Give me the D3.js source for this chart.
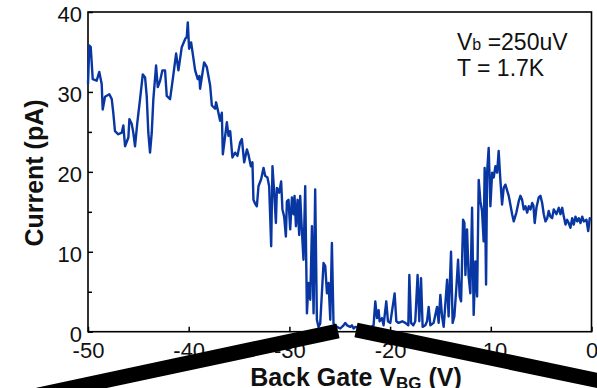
<!DOCTYPE html>
<html>
<head>
<meta charset="utf-8">
<script src="https://cdn.jsdelivr.net/npm/d3@7"></script>
<style>
  body { margin: 0; background: #fff; }
  svg { display: block; font-family: "Liberation Sans", Arial, sans-serif; }
</style>
</head>
<body>
<svg id="chart"></svg>
<script>
// Back gate voltage (V)
const vbg = [
  -50.00, -49.87, -49.73, -49.53, -49.14, -48.88, -48.64, -48.54, -48.31, -47.88,
  -47.64, -47.49, -47.32, -46.99, -46.65, -46.49, -46.32, -45.99, -45.89, -45.66,
  -45.50, -45.33, -45.10, -44.83, -44.56, -44.33, -44.17, -44.01, -43.84, -43.67,
  -43.51, -43.24, -43.07, -42.84, -42.61, -42.35, -42.18, -41.85, -41.58, -41.25,
  -41.02, -40.69, -40.36, -40.19, -40.09, -39.96, -39.76, -39.36, -39.10, -38.94,
  -38.87, -38.47, -38.20, -37.87, -37.70, -37.38, -37.28, -37.05, -36.88, -36.71,
  -36.61, -36.21, -36.05, -35.88, -35.66, -35.39, -35.16, -34.89, -34.72, -34.49,
  -34.22, -34.07, -33.83, -33.67, -33.57, -33.40, -33.23, -33.07, -32.80, -32.57,
  -32.41, -32.18, -32.01, -31.81, -31.68, -31.51, -31.34, -31.24, -31.01, -30.82,
  -30.69, -30.52, -30.35, -30.25, -30.09, -29.92, -29.75, -29.59, -29.49, -29.35,
  -29.19, -29.03, -28.93, -28.76, -28.60, -28.43, -28.26, -28.10, -27.93, -27.76,
  -27.60, -27.44, -27.27, -27.11, -26.94, -26.61, -26.44, -26.27, -26.11, -25.94,
  -25.78, -25.62, -25.28, -24.95, -24.62, -24.45, -24.28, -24.12, -23.96, -23.79,
  -23.63, -23.46, -22.96, -22.46, -21.97, -21.64, -21.47, -21.30, -21.14, -21.04,
  -20.81, -20.65, -20.38, -20.21, -19.98, -19.55, -19.38, -19.16, -18.79, -18.49,
  -18.19, -18.09, -17.92, -17.69, -17.50, -17.27, -17.10, -16.93, -16.77, -16.50,
  -16.33, -16.17, -16.00, -15.68, -15.34, -15.18, -15.01, -14.84, -14.68, -14.34,
  -14.19, -13.95, -13.79, -13.62, -13.42, -13.25, -13.09, -12.95, -12.75, -12.62,
  -12.52, -12.36, -12.20, -12.03, -11.86, -11.70, -11.53, -11.36, -11.20, -11.03,
  -10.87, -10.71, -10.61, -10.47, -10.37, -10.21, -10.04, -9.87, -9.71, -9.54,
  -9.37, -9.22, -9.05, -8.88, -8.72, -8.55, -8.22, -7.88, -7.72, -7.46,
  -7.23, -7.06, -6.89, -6.73, -6.56, -6.39, -6.23, -6.06, -5.89, -5.77,
  -5.64, -5.47, -5.24, -5.07, -4.90, -4.74, -4.57, -4.40, -4.25, -4.08,
  -3.91, -3.75, -3.48, -3.25, -3.08, -2.91, -2.75, -2.58, -2.42, -2.26,
  -2.09, -1.92, -1.76, -1.59, -1.42, -1.26, -1.09, -0.92, -0.76, -0.50,
  -0.33, -0.17, -0.05
];

// Current (pA)
const current = [
  31.0, 35.8, 35.6, 31.6, 31.4, 32.5, 31.0, 27.8, 29.4, 29.7,
  29.1, 27.4, 25.1, 24.7, 24.9, 25.8, 23.2, 24.3, 26.6, 26.0,
  24.9, 23.2, 26.2, 29.1, 32.2, 31.8, 29.5, 24.9, 22.4, 24.9,
  29.1, 33.3, 30.6, 31.4, 32.7, 32.7, 29.5, 29.1, 31.6, 34.8,
  32.7, 35.6, 36.6, 36.9, 38.7, 35.4, 36.2, 32.7, 31.6, 32.0,
  30.4, 33.7, 33.1, 30.8, 28.3, 27.9, 28.7, 27.4, 26.4, 27.4,
  22.2, 26.2, 24.5, 25.1, 21.8, 22.4, 22.0, 23.7, 24.1, 21.2,
  22.8, 22.2, 20.7, 21.2, 16.5, 16.0, 15.7, 18.2, 19.1, 20.5,
  19.5, 19.3, 18.2, 10.7, 20.7, 17.4, 13.6, 18.0, 17.4, 18.8,
  15.3, 14.4, 11.9, 16.3, 16.5, 12.8, 16.8, 14.7, 17.0, 13.2,
  16.5, 12.1, 17.0, 12.6, 9.0, 18.2, 2.3, 6.1, 4.0, 13.2,
  2.3, 17.8, 1.5, 0.6, 1.0, 8.6, 8.2, 4.8, 6.1, 1.5,
  11.1, 1.0, 0.6, 0.4, 0.8, 1.1, 0.8, 0.7, 0.6, 0.8,
  0.4, 0.6, 0.5, 0.7, 0.5, 0.8, 3.8, 1.7, 2.7, 1.3,
  1.7, 0.8, 3.8, 1.3, 1.1, 4.8, 1.3, 1.1, 1.3, 1.1,
  0.8, 7.1, 1.1, 0.8, 1.3, 7.1, 1.3, 6.7, 0.6, 0.8,
  1.3, 3.1, 0.8, 1.1, 3.1, 1.1, 4.6, 1.9, 0.6, 6.5,
  1.9, 10.0, 1.1, 1.9, 5.5, 9.0, 4.4, 3.8, 14.0, 13.6,
  7.1, 12.8, 6.9, 4.8, 15.5, 2.1, 8.8, 4.4, 19.0, 16.3,
  15.1, 11.3, 20.5, 5.9, 19.9, 23.0, 15.7, 19.9, 19.3, 20.7,
  19.9, 22.6, 19.0, 15.9, 18.0, 18.4, 17.0, 14.7, 13.8, 14.9,
  16.3, 17.0, 16.5, 15.3, 15.7, 14.9, 15.7, 15.3, 16.1, 15.8,
  13.6, 15.5, 16.8, 17.0, 16.1, 14.7, 13.8, 14.2, 15.1, 14.4,
  14.2, 15.3, 14.7, 15.5, 14.7, 15.5, 14.4, 13.4, 14.0, 13.6,
  13.0, 14.2, 13.4, 14.4, 13.8, 14.2, 13.6, 14.4, 13.8, 14.0,
  12.6, 14.2, 14.0
];

const xTicks = [-50, -40, -30, -20, -10, 0];
const yTicks = [0, 10, 20, 30, 40];
const yMinorTicks = [5, 15, 25, 35];

const width = 597;
const height = 388;
const margin = { top: 12, right: 5.5, bottom: 56.3, left: 88 };

const svg = d3.select("#chart").attr("width", width).attr("height", height);

const x = d3.scaleLinear().domain([-50, 0]).range([margin.left, width - margin.right]);
const y = d3.scaleLinear().domain([0, 40]).range([height - margin.bottom, margin.top]);

const data = vbg.map((v, i) => ({ v, c: current[i] }));

// Axes (ticks pointing inward)
const xAxis = svg.append("g")
  .attr("transform", `translate(0,${y(0)})`)
  .call(d3.axisBottom(x).tickValues(xTicks).tickFormat((d) => String(d))
    .tickSizeInner(-5).tickSizeOuter(0).tickPadding(11));

const yAxis = svg.append("g")
  .attr("transform", `translate(${x(-50)},0)`)
  .call(d3.axisLeft(y).tickValues(yTicks).tickFormat((d) => String(d))
    .tickSizeInner(-5).tickSizeOuter(0).tickPadding(6));

const yMinor = svg.append("g")
  .attr("transform", `translate(${x(-50)},0)`)
  .call(d3.axisLeft(y).tickValues(yMinorTicks).tickFormat("")
    .tickSizeInner(-4).tickSizeOuter(0));

[xAxis, yAxis, yMinor].forEach((g) => {
  g.select(".domain").remove();
  g.selectAll(".tick line").attr("stroke", "#000").attr("stroke-width", 1.5);
  g.selectAll(".tick text")
    .attr("fill", "#111")
    .style("font-size", "22px")
    .style("font-family", '"Liberation Sans", Arial, sans-serif');
});
// nudge the y labels down a touch, like the reference
yAxis.selectAll(".tick text").attr("dy", "0.45em");

// Frame
svg.append("rect")
  .attr("x", x(-50))
  .attr("y", y(40))
  .attr("width", x(0) - x(-50))
  .attr("height", y(0) - y(40))
  .attr("fill", "none")
  .attr("stroke", "#000")
  .attr("stroke-width", 1.6);

// Data line
const line = d3.line().x((d) => x(d.v)).y((d) => y(d.c));

svg.append("path")
  .datum(data)
  .attr("fill", "none")
  .attr("stroke", "#0836a3")
  .attr("stroke-width", 2.4)
  .attr("stroke-linejoin", "round")
  .attr("d", line);

// Annotation
const note = svg.append("g").style("font-size", "23px").attr("fill", "#111");
const t1 = note.append("text").attr("x", 457).attr("y", 49.5);
t1.append("tspan").text("V");
t1.append("tspan").style("font-size", "16px").text("b");
t1.append("tspan").text(" =250uV");
note.append("text").attr("x", 457).attr("y", 76).text("T = 1.7K");

// Axis titles
svg.append("text")
  .attr("transform", "translate(43,173) rotate(-90)")
  .attr("text-anchor", "middle")
  .style("font-size", "25px")
  .style("font-weight", "bold")
  .attr("fill", "#111")
  .text("Current (pA)");

const xt = svg.append("text")
  .attr("x", 356)
  .attr("y", 386)
  .attr("text-anchor", "middle")
  .style("font-size", "25px")
  .style("font-weight", "bold")
  .attr("fill", "#111");
xt.append("tspan").text("Back Gate V");
xt.append("tspan").attr("dy", 3).style("font-size", "17px").text("BG");
xt.append("tspan").attr("dy", -3).text(" (V)");

// Zoom callout bars
const bars = svg.append("g").attr("stroke", "#000").attr("stroke-width", 15).attr("stroke-linecap", "butt");
bars.append("line").attr("x1", 38).attr("y1", 395).attr("x2", 338).attr("y2", 331);
bars.append("line").attr("x1", 356).attr("y1", 330).attr("x2", 605).attr("y2", 382);
</script>
</body>
</html>
